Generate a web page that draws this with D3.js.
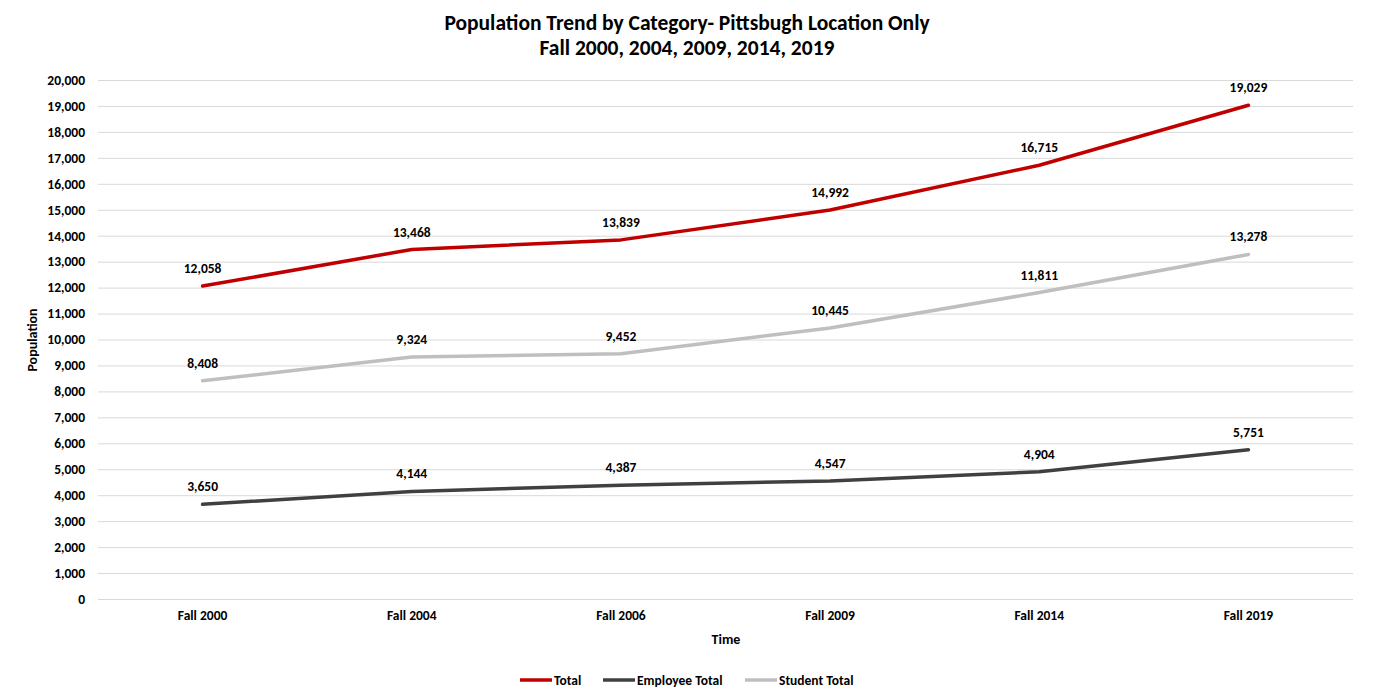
<!DOCTYPE html>
<html><head><meta charset="utf-8">
<script src="https://cdn.jsdelivr.net/npm/d3@7"></script>
<style>
body{margin:0;background:#fff;}
text{font-family:Carlito,Calibri,Lato,"Open Sans",sans-serif;font-weight:bold;fill:#000;}
</style></head><body>
<svg id="c" width="1373" height="691"></svg>
<script>
const categories = ["Fall 2000","Fall 2004","Fall 2006","Fall 2009","Fall 2014","Fall 2019"];
const totalValues = [12058,13468,13839,14992,16715,19029];
const employeeValues = [3650,4144,4387,4547,4904,5751];
const studentValues = [8408,9324,9452,10445,11811,13278];
const seriesNames = ["Total","Employee Total","Student Total"];
const seriesColors = ["#C00000","#404040","#BFBFBF"];
const yTicks = d3.range(0,20001,1000);

(function(){
const svg = d3.select("#c");
const mLeft=98,mRight=1353,mTop=80,mBottom=599;
const x = d3.scaleBand().domain(categories).range([mLeft,mRight]);
const y = d3.scaleLinear().domain([0,20000]).range([mBottom,mTop]);
const fmt = d3.format(",");

svg.append("text").attr("x",687).attr("y",30).attr("text-anchor","middle").style("font-size","21.5px").text("Population Trend by Category- Pittsbugh Location Only");
svg.append("text").attr("x",687).attr("y",55).attr("text-anchor","middle").style("font-size","21.5px").text("Fall 2000, 2004, 2009, 2014, 2019");

svg.append("g").selectAll("line").data(yTicks).join("line")
 .attr("x1",mLeft).attr("x2",mRight).attr("y1",d=>y(d)+0.5).attr("y2",d=>y(d)+0.5)
 .attr("stroke","#D9D9D9").attr("stroke-width",1);

const yAxis = svg.append("g").attr("transform",`translate(${mLeft},0)`)
 .call(d3.axisLeft(y).tickValues(yTicks).tickFormat(fmt).tickSize(0).tickPadding(13));
yAxis.select(".domain").remove();
yAxis.selectAll("text").style("font-size","13.5px").attr("fill","#000");

const xAxis = svg.append("g").attr("transform",`translate(0,${mBottom})`)
 .call(d3.axisBottom(x).tickSize(0).tickPadding(11));
xAxis.select(".domain").remove();
xAxis.selectAll("text").style("font-size","13.5px").attr("fill","#000");

svg.append("text").attr("transform","translate(37,340) rotate(-90)").attr("text-anchor","middle").style("font-size","14px").text("Population");
svg.append("text").attr("x",726).attr("y",644).attr("text-anchor","middle").style("font-size","14px").text("Time");

const series = [totalValues, employeeValues, studentValues];
const line = d3.line().x((d,i)=>x(categories[i])+x.bandwidth()/2).y(d=>y(d)).curve(d3.curveLinear);
series.forEach((vals,k)=>{
  svg.append("path").datum(vals).attr("d",line).attr("fill","none")
   .attr("stroke",seriesColors[k]).attr("stroke-width",3.5)
   .attr("stroke-linecap","round").attr("stroke-linejoin","round");
});
series.forEach((vals,k)=>{
  svg.append("g").selectAll("text").data(vals).join("text")
   .attr("x",(d,i)=>x(categories[i])+x.bandwidth()/2)
   .attr("y",d=>y(d)-13).attr("text-anchor","middle").style("font-size","13.5px")
   .text(fmt);
});

const legendX=[520,603,745];
seriesNames.forEach((n,k)=>{
  const g=svg.append("g").attr("transform",`translate(${legendX[k]},680)`);
  g.append("line").attr("x1",0).attr("x2",32).attr("stroke",seriesColors[k]).attr("stroke-width",3.5);
  g.append("text").attr("x",34).attr("y",5).style("font-size","13.5px").text(n);
});
})();
</script></body></html>
